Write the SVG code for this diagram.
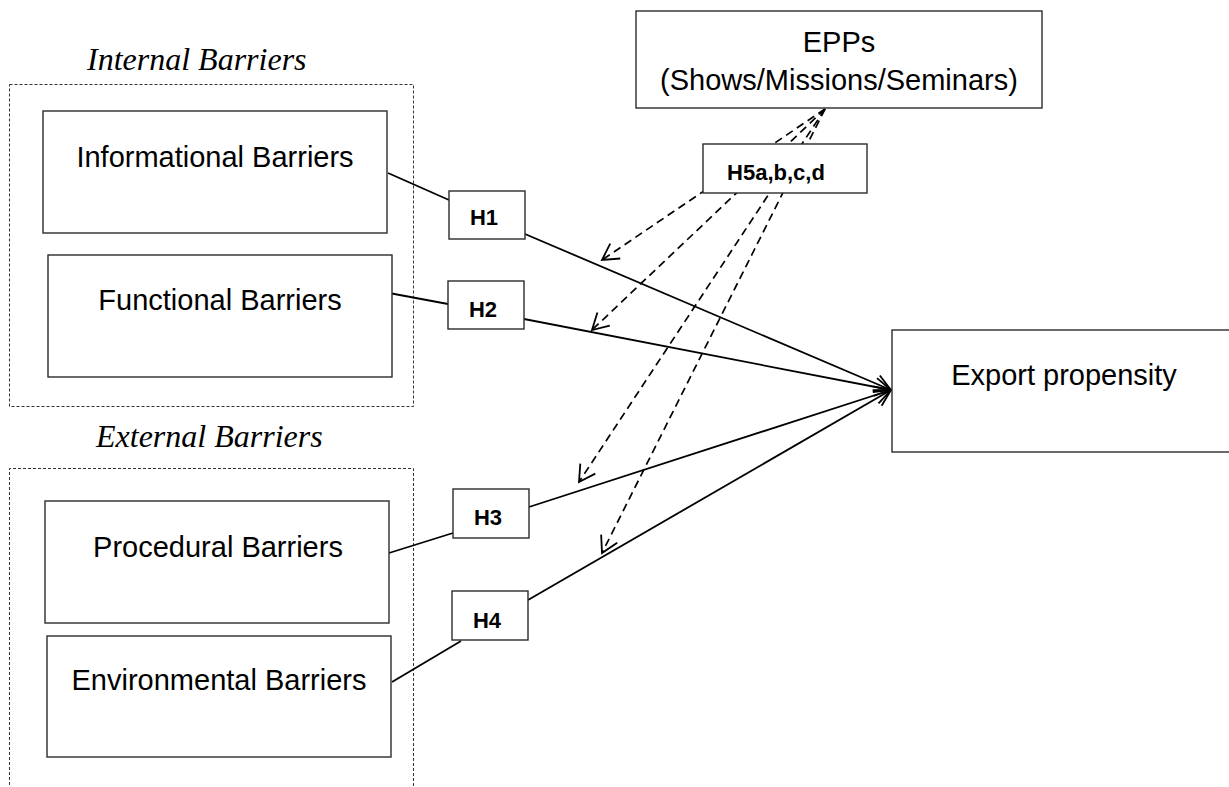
<svg xmlns="http://www.w3.org/2000/svg" width="1229" height="787" viewBox="0 0 1229 787">
<style>
.bg{fill:#fff}
.box{fill:#fff;stroke:#2b2b2b;stroke-width:1.4}
.grp{fill:none;stroke:#333;stroke-width:1;stroke-dasharray:3,2}
.lbl{font-family:"Liberation Sans",Arial,sans-serif;font-size:29px;fill:#000;text-anchor:middle}
.hl{font-family:"Liberation Sans",Arial,sans-serif;font-size:22px;font-weight:bold;fill:#000;text-anchor:middle}
.ttl{font-family:"Liberation Serif","Times New Roman",serif;font-size:32px;font-style:italic;fill:#000}
.ln{fill:none;stroke:#000;stroke-width:1.8}
.dl{fill:none;stroke:#000;stroke-width:1.7;stroke-dasharray:8,5}
</style>
<defs>
<marker id="arr" markerUnits="userSpaceOnUse" viewBox="-18 -11 20 22" refX="0" refY="0" markerWidth="20" markerHeight="22" orient="auto" overflow="visible">
<path d="M-16,-9 L0,0 L-16,9" fill="none" stroke="#000" stroke-width="1.8"/>
</marker>
</defs>
<rect class="bg" x="0" y="0" width="1229" height="787"/>

<g id="internal-group">
<rect class="grp" x="9.5" y="84.5" width="404" height="322"/>
<text class="ttl" x="87" y="70">Internal Barriers</text>
</g>
<g id="external-group">
<path class="grp" d="M9.5,800 V468.5 H413.5 V800"/>
<text class="ttl" x="96" y="447">External Barriers</text>
</g>

<g id="connectors">
<line class="ln" x1="388" y1="173" x2="449" y2="200"/>
<line class="ln" x1="525" y1="234" x2="891" y2="390" marker-end="url(#arr)"/>
<line class="ln" x1="389" y1="293" x2="448" y2="304"/>
<line class="ln" x1="524" y1="319" x2="891" y2="390" marker-end="url(#arr)"/>
<line class="ln" x1="389" y1="553" x2="453" y2="533"/>
<line class="ln" x1="529" y1="507" x2="891" y2="390" marker-end="url(#arr)"/>
<line class="ln" x1="392" y1="682" x2="461" y2="641"/>
<line class="ln" x1="528" y1="600" x2="891" y2="390" marker-end="url(#arr)"/>
<line class="dl" x1="825" y1="109" x2="602" y2="260" marker-end="url(#arr)"/>
<line class="dl" x1="825" y1="109" x2="592" y2="330" marker-end="url(#arr)"/>
<line class="dl" x1="825" y1="109" x2="579" y2="482" marker-end="url(#arr)"/>
<line class="dl" x1="825" y1="109" x2="602" y2="553" marker-end="url(#arr)"/>
</g>

<g id="informational">
<rect class="box" x="43" y="111" width="344" height="122"/>
<text class="lbl" x="215" y="167">Informational Barriers</text>
</g>
<g id="functional">
<rect class="box" x="48" y="255" width="344" height="122"/>
<text class="lbl" x="220" y="310">Functional Barriers</text>
</g>
<g id="procedural">
<rect class="box" x="45" y="501" width="344" height="122"/>
<text class="lbl" x="218" y="557">Procedural Barriers</text>
</g>
<g id="environmental">
<rect class="box" x="47" y="636" width="344" height="121"/>
<text class="lbl" x="219" y="690">Environmental Barriers</text>
</g>
<g id="epps">
<rect class="box" x="636" y="11" width="406" height="97"/>
<text class="lbl" x="839" y="52">EPPs</text>
<text class="lbl" x="839" y="90">(Shows/Missions/Seminars)</text>
</g>
<g id="h5">
<rect class="box" x="703" y="144" width="164" height="49"/>
<text class="hl" x="776" y="180">H5a,b,c,d</text>
</g>
<g id="h1">
<rect class="box" x="449" y="191" width="76" height="48"/>
<text class="hl" x="484" y="225">H1</text>
</g>
<g id="h2">
<rect class="box" x="448" y="281" width="76" height="48"/>
<text class="hl" x="483" y="317">H2</text>
</g>
<g id="h3">
<rect class="box" x="453" y="489" width="76" height="49"/>
<text class="hl" x="488" y="525">H3</text>
</g>
<g id="h4">
<rect class="box" x="452" y="591" width="76" height="49"/>
<text class="hl" x="487" y="628">H4</text>
</g>
<g id="export">
<rect class="box" x="892" y="330" width="340" height="122"/>
<text class="lbl" x="1064" y="385">Export propensity</text>
</g>
</svg>
